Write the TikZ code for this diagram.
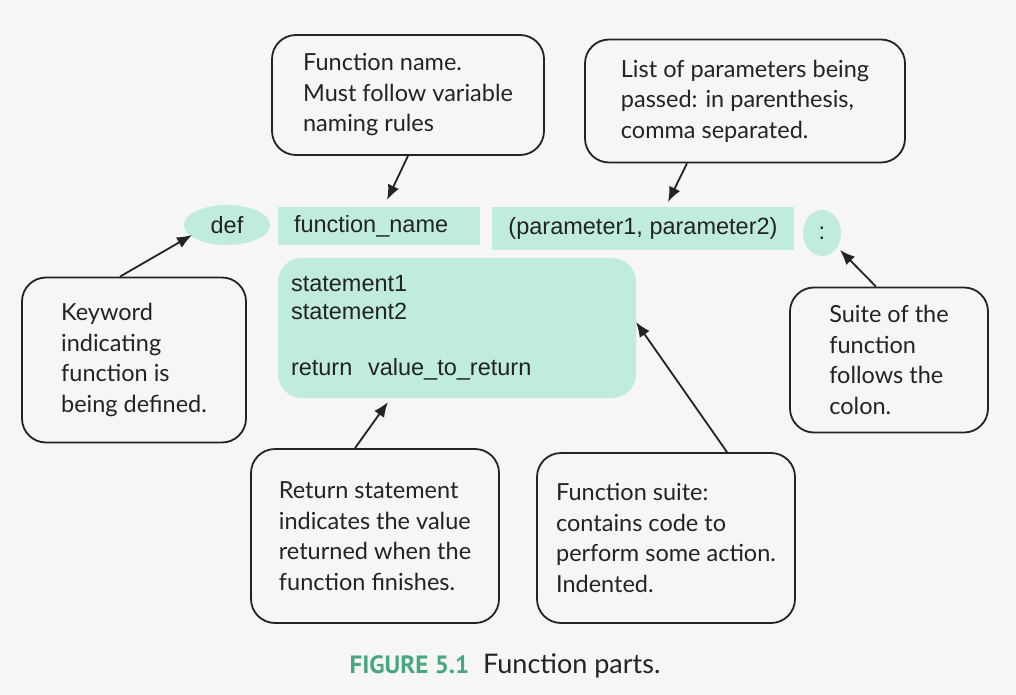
\documentclass[tikz,border=0pt]{standalone}
\usepackage{fontspec}
\setmainfont{Lato}
\newfontfamily\codefont{Liberation Sans}
\newfontfamily\capfont{PT Sans}
\usetikzlibrary{arrows.meta,shapes.geometric}
\definecolor{codeteal}{RGB}{192,236,222}
\definecolor{capteal}{RGB}{72,166,130}
\definecolor{paper}{RGB}{246,246,244}
\definecolor{ink}{RGB}{35,35,35}
\tikzset{
  callout/.style={draw=ink, line width=1.8pt, rounded corners=24pt, align=left,
    font=\fontsize{23.5}{30.5}\selectfont, text=ink, inner sep=0pt},
  codebox/.style={fill=codeteal, inner sep=0pt, font=\codefont\fontsize{23.5}{28}\selectfont, text=ink},
  pointer/.style={ink, line width=1.8pt, -{Latex[length=15pt,width=12pt]}}
}
\begin{document}
\begin{tikzpicture}[x=1pt,y=-1pt]
\useasboundingbox[fill=paper] (0,0) rectangle (1016,695);
\node[codebox, ellipse, minimum width=86, minimum height=40] (def) at (227,225) {def};
\node[codebox, minimum width=202, minimum height=38, text width=170, align=left] (fname) at (379,226) {function\_name};
\node[codebox, minimum width=302, minimum height=43] (params) at (643,228) {(parameter1, parameter2)};
\node[codebox, ellipse, minimum width=38, minimum height=46] (colon) at (822,233) {:};
\node[codebox, rounded corners=24pt, minimum width=358, minimum height=140, text width=332, align=left] (body) at (457,328)
  {statement1\\ statement2\\[28pt] return\ \ value\_to\_return};
\node[callout, minimum width=272, minimum height=120] (fnamebox) at (408,95)
  {Function name.\\ Must follow variable\\ naming rules};
\node[callout, minimum width=320, minimum height=123] (parbox) at (745,101)
  {List of parameters being\\ passed: in parenthesis,\\ comma separated.};
\node[callout, minimum width=224, minimum height=165] (keybox) at (134,360)
  {Keyword\\ indicating\\ function is\\ being defined.};
\node[callout, minimum width=198, minimum height=145] (suitebox) at (889,360)
  {Suite of the\\ function\\ follows the\\ colon.};
\node[callout, minimum width=248, minimum height=174] (retbox) at (375,536)
  {Return statement\\ indicates the value\\ returned when the\\ function finishes.};
\node[callout, minimum width=258, minimum height=170] (fsuitebox) at (666,538)
  {Function suite:\\ contains code to\\ perform some action.\\ Indented.};
\node[text=ink, font=\fontsize{27}{30}\selectfont] (caption) at (505,666)
  {{\capfont\fontsize{25}{30}\selectfont\bfseries\color{capteal}FIGURE 5.1}\ \ Function parts.};
\coordinate (tipname) at (387,200);
\coordinate (tippar) at (668,202);
\coordinate (tipdef) at (192,235);
\coordinate (tipcolon) at (840,250);
\coordinate (tipret) at (388,402);
\coordinate (tipsuite) at (636,322);
\draw[pointer] (fnamebox.south) -- (tipname);
\draw[pointer] ([xshift=-58pt]parbox.south) -- (tippar);
\draw[pointer] ([xshift=-14pt]keybox.north) -- (tipdef);
\draw[pointer] ([xshift=-13pt]suitebox.north) -- (tipcolon);
\draw[pointer] ([xshift=-20pt]retbox.north) -- (tipret);
\draw[pointer] ([xshift=61pt]fsuitebox.north) -- (tipsuite);
\end{tikzpicture}
\end{document}
